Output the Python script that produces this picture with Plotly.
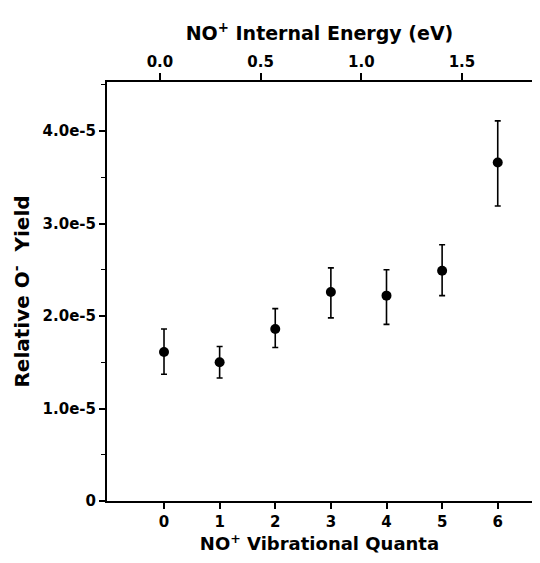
import plotly.graph_objects as go

# Data
quanta = [0, 1, 2, 3, 4, 5, 6]
yield_mean = [1.61e-5, 1.50e-5, 1.86e-5, 2.26e-5, 2.22e-5, 2.49e-5, 3.66e-5]
yield_upper = [1.86e-5, 1.67e-5, 2.08e-5, 2.52e-5, 2.50e-5, 2.77e-5, 4.11e-5]
yield_lower = [1.37e-5, 1.33e-5, 1.66e-5, 1.98e-5, 1.91e-5, 2.22e-5, 3.19e-5]

y_tickvals = [0, 1e-5, 2e-5, 3e-5, 4e-5]
y_ticktext = ["0", "1.0e-5", "2.0e-5", "3.0e-5", "4.0e-5"]
energy_tickvals = [0.0, 0.5, 1.0, 1.5]
energy_ticktext = ["0.0", "0.5", "1.0", "1.5"]

err_plus = [u - m for u, m in zip(yield_upper, yield_mean)]
err_minus = [m - l for m, l in zip(yield_mean, yield_lower)]

FONT = "DejaVu Sans"

fig = go.Figure()
fig.add_trace(go.Scatter(
    x=quanta, y=yield_mean, mode="markers",
    marker=dict(color="black", size=10),
    error_y=dict(type="data", array=err_plus, arrayminus=err_minus,
                 color="black", thickness=1.6, width=3),
    showlegend=False,
))
# invisible trace so the top (energy) axis is drawn
fig.add_trace(go.Scatter(
    x=energy_tickvals, y=[None] * len(energy_tickvals), xaxis="x2", yaxis="y",
    mode="markers", marker=dict(opacity=0), hoverinfo="skip", showlegend=False,
))

fig.update_layout(
    width=524, height=547,
    margin=dict(l=99, r=0, t=74, b=54),
    paper_bgcolor="white", plot_bgcolor="white",
    font=dict(family=FONT, color="black", size=15),
    xaxis=dict(
        range=[-1.025, 6.616], tickvals=quanta, ticktext=[str(q) for q in quanta],
        ticks="outside", ticklen=6, tickwidth=1.5, tickcolor="black",
        showline=True, linecolor="black", linewidth=1.5,
        showgrid=False, zeroline=False,
        tickfont=dict(family=FONT, size=15, weight="bold"),
        title=dict(text="NO<sup>+</sup> Vibrational Quanta",
                   font=dict(family=FONT, size=18, weight="bold"), standoff=5),
    ),
    xaxis2=dict(
        overlaying="x", side="top", anchor="y",
        range=[-0.263, 1.848], tickvals=energy_tickvals, ticktext=energy_ticktext,
        ticks="outside", ticklen=7, tickwidth=1.5, tickcolor="black",
        showline=True, linecolor="black", linewidth=1.5,
        showgrid=False, zeroline=False,
        tickfont=dict(family=FONT, size=15, weight="bold"),
        title=dict(text="NO<sup>+</sup> Internal Energy (eV)",
                   font=dict(family=FONT, size=19, weight="bold"), standoff=8),
    ),
    yaxis=dict(
        range=[0, 4.53e-5], tickvals=y_tickvals, ticktext=y_ticktext,
        ticks="outside", ticklen=6, tickwidth=1.5, tickcolor="black",
        minor=dict(dtick=5e-6, ticks="outside", ticklen=4, tickcolor="black", tickwidth=1.2),
        showline=True, linecolor="black", linewidth=2,
        showgrid=False, zeroline=False,
        tickfont=dict(family=FONT, size=15, weight="bold"),
        title=dict(text="Relative O<sup>-</sup>  Yield",
                   font=dict(family=FONT, size=20, weight="bold"), standoff=8),
    ),
)

fig.write_html("out.html")
